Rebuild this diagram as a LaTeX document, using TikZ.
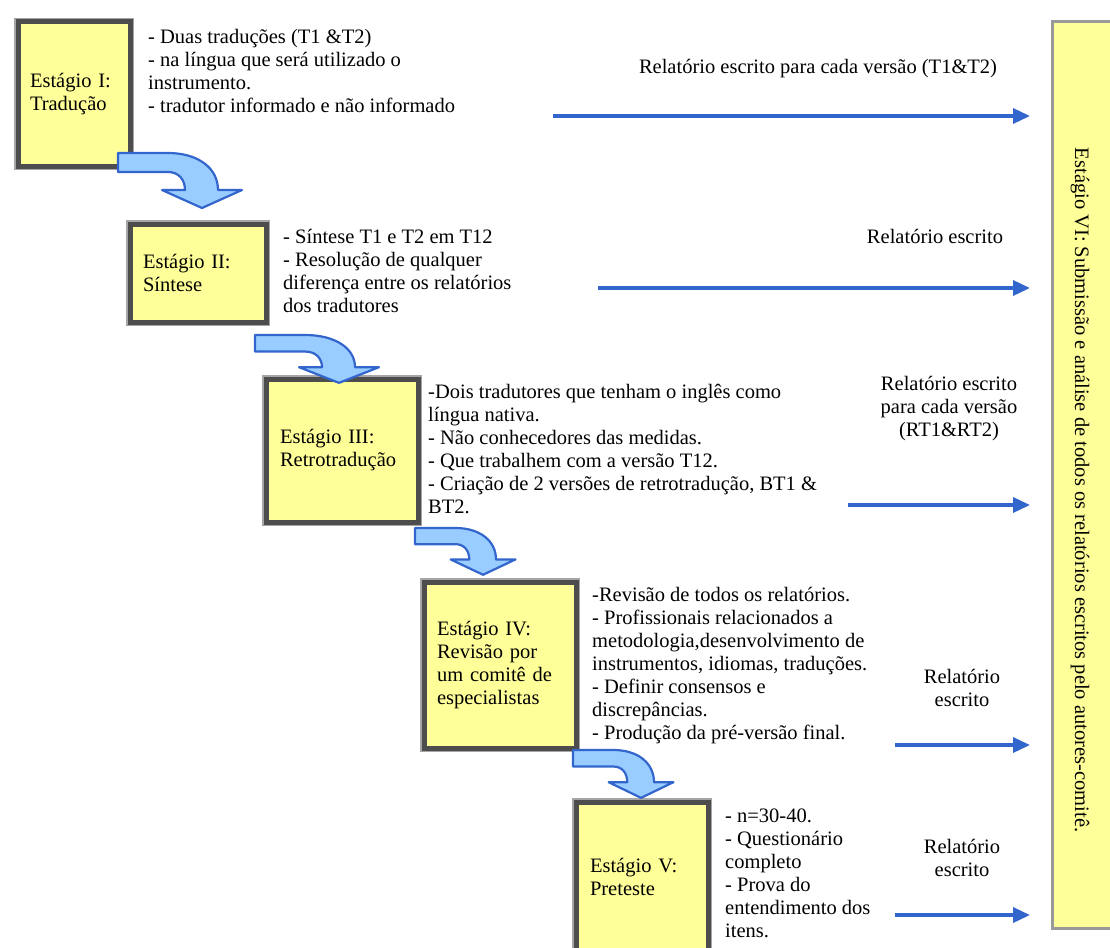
\documentclass[tikz,border=0pt]{standalone}
\usepackage{fontspec}
\setmainfont{Liberation Serif}
\usetikzlibrary{arrows.meta}

\definecolor{stageyellow}{HTML}{FFFF99}
\definecolor{framegray}{HTML}{4D4D4D}
\definecolor{shadowgray}{HTML}{A6A6A6}
\definecolor{reportblue}{HTML}{3366CC}
\definecolor{bendfill}{HTML}{99CCFF}

\newcommand\diagfont{\fontsize{20.5pt}{23pt}\selectfont}

\tikzset{
  stagebox/.style={fill=stageyellow, draw=framegray, line width=5pt,
    preaction={draw=shadowgray, line width=8pt},
    align=left, inner ysep=0pt, font=\diagfont},
  finalbox/.style={fill=stageyellow, draw=black!40, line width=3pt},
  desctext/.style={anchor=north west, align=left, inner sep=0pt, font=\diagfont},
  reporttext/.style={align=center, inner sep=0pt, font=\diagfont},
  reportarrow/.style={draw=reportblue, line width=3.5pt,
    -{Triangle[length=17pt,width=15pt]}},
  bendarrow/.style={fill=bendfill, draw=reportblue, line width=2.2pt, line join=round}
}

% bent block arrow: origin x, origin y, xscale, yscale
\newcommand\bentarrow[4]{%
\draw[bendarrow, shift={(#1,#2)}, xscale=#3, yscale=#4]
  (0,0) -- (50,0) .. controls (80,0) and (100,15) .. (100,37)
  -- (124,37) -- (84,55) -- (44,37) -- (67,37)
  .. controls (67,27) and (61,19) .. (50,19) -- (0,19) -- cycle;}

\begin{document}
\begin{tikzpicture}[x=1pt,y=-1pt]
\useasboundingbox[fill=white] (0,0) rectangle (1110,947);
% Drawing stages
\node[stagebox, minimum width=112pt, minimum height=144pt, text width=88pt, inner xsep=12pt] (stg1) at (74,94) {Estágio I:\\Tradução};
\node[stagebox, minimum width=136pt, minimum height=98pt, text width=110pt, inner xsep=13pt] (stg2) at (198,273) {Estágio II:\\Síntese};
\node[stagebox, minimum width=152pt, minimum height=143pt, text width=124pt, inner xsep=14pt] (stg3) at (342,450.5) {Estágio III:\\Retrotradução};
\node[stagebox, minimum width=152pt, minimum height=166pt, text width=126pt, inner xsep=13pt] (stg4) at (500,665) {Estágio IV:\\Revisão por\\um comitê de\\especialistas};
\node[stagebox, minimum width=132pt, minimum height=150pt, text width=104pt, inner xsep=14pt] (stg5) at (642,877) {Estágio V:\\Preteste};
\node[finalbox, minimum width=70pt, minimum height=906pt] (stg6) at (1087,475) {};
\node[rotate=-90, inner sep=0pt, font=\diagfont] (stg6txt) at (1080,490) {Estágio VI: Submissão e análise de todos os relatórios escritos pelo autores-comitê.};
% Done with stages; drawing descriptions
\node[desctext] (desc1) at (148,29) {- Duas traduções (T1 \&T2)\\- na língua que será utilizado o\\instrumento.\\- tradutor informado e não informado};
\node[desctext] (desc2) at (283,229) {- Síntese T1 e T2 em T12\\- Resolução de qualquer\\diferença entre os relatórios\\dos tradutores};
\node[desctext] (desc3) at (428,384) {-Dois tradutores que tenham o inglês como\\língua nativa.\\- Não conhecedores das medidas.\\- Que trabalhem com a versão T12.\\- Criação de 2 versões de retrotradução, BT1 \&\\BT2.};
\node[desctext] (desc4) at (592,587) {-Revisão de todos os relatórios.\\- Profissionais relacionados a\\metodologia,desenvolvimento de\\instrumentos, idiomas, traduções.\\- Definir consensos e\\discrepâncias.\\- Produção da pré-versão final.};
\node[desctext] (desc5) at (725,809) {- n=30-40.\\- Questionário\\completo\\- Prova do\\entendimento dos\\itens.};
% Drawing reports
\node[reporttext] (rep1) at (818,69) {Relatório escrito para cada versão (T1\&T2)};
\node[reporttext] (rep2) at (935,236) {Relatório escrito};
\node[reporttext] (rep3) at (949,409) {Relatório escrito\\para cada versão\\(RT1\&RT2)};
\node[reporttext] (rep4) at (962,688) {Relatório\\escrito};
\node[reporttext] (rep5) at (962,858) {Relatório\\escrito};
\coordinate (rep1s) at (553,116);
\coordinate (rep2s) at (598,288);
\coordinate (rep3s) at (848,505);
\coordinate (rep4s) at (895,745);
\coordinate (rep5s) at (895,915);
\foreach \r in {rep1s,rep2s,rep3s,rep4s,rep5s}
  \draw[reportarrow] (\r) -- ([xshift=-20.5pt]stg6.west |- \r);
% Done with reports; drawing bent arrows
\bentarrow{118}{153}{1}{1}
\bentarrow{255}{335}{1}{0.87}
\bentarrow{415}{528}{0.81}{0.85}
\bentarrow{573}{750}{0.81}{0.87}
\end{tikzpicture}
\end{document}
